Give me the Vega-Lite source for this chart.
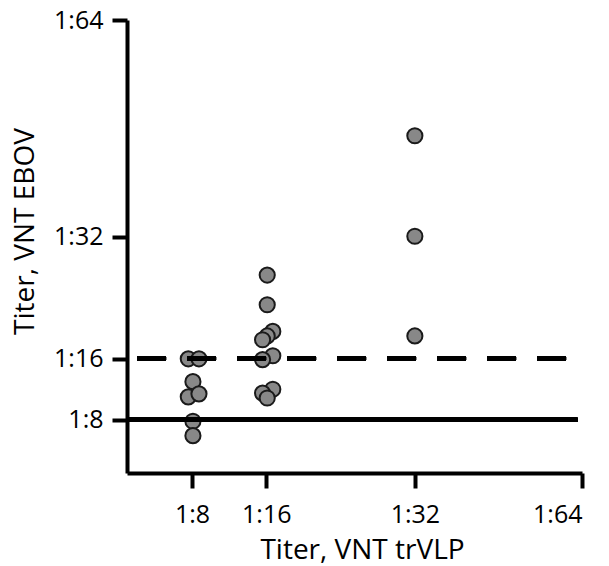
{
  "$schema": "https://vega.github.io/schema/vega-lite/v6.json",
  "autosize": "none",
  "padding": {"left": 127, "top": 20, "right": 27, "bottom": 93},
  "width": 455,
  "height": 453,
  "background": "white",
  "config": {
    "view": {"stroke": null},
    "axis": {
      "grid": false,
      "domainColor": "black",
      "domainWidth": 4,
      "tickColor": "black",
      "tickWidth": 4,
      "tickSize": 15,
      "labelFont": "Open Sans",
      "labelFontSize": 25,
      "labelColor": "black",
      "titleFont": "Open Sans",
      "titleFontSize": 28,
      "titleFontWeight": "normal",
      "titleColor": "black"
    }
  },
  "data": {
    "values": [
      {"group": "1:8", "trVLP": 7.6, "EBOV": 16.0},
      {"group": "1:8", "trVLP": 8.75, "EBOV": 16.0},
      {"group": "1:8", "trVLP": 8.1, "EBOV": 13.0},
      {"group": "1:8", "trVLP": 7.6, "EBOV": 11.0},
      {"group": "1:8", "trVLP": 8.75, "EBOV": 11.4},
      {"group": "1:8", "trVLP": 8.1, "EBOV": 7.8},
      {"group": "1:8", "trVLP": 8.1, "EBOV": 5.9},
      {"group": "1:16", "trVLP": 16.1, "EBOV": 27.0},
      {"group": "1:16", "trVLP": 16.1, "EBOV": 23.1},
      {"group": "1:16", "trVLP": 16.7, "EBOV": 19.6},
      {"group": "1:16", "trVLP": 16.1, "EBOV": 19.0},
      {"group": "1:16", "trVLP": 15.6, "EBOV": 18.5},
      {"group": "1:16", "trVLP": 16.7, "EBOV": 16.4},
      {"group": "1:16", "trVLP": 15.6, "EBOV": 15.9},
      {"group": "1:16", "trVLP": 16.7, "EBOV": 12.0},
      {"group": "1:16", "trVLP": 15.6, "EBOV": 11.5},
      {"group": "1:16", "trVLP": 16.1, "EBOV": 10.85},
      {"group": "1:32", "trVLP": 32.0, "EBOV": 45.3},
      {"group": "1:32", "trVLP": 32.0, "EBOV": 32.1},
      {"group": "1:32", "trVLP": 32.0, "EBOV": 19.0}
    ]
  },
  "layer": [
    {
      "mark": {"type": "point", "shape": "circle", "filled": true, "size": 230, "fill": "#888888", "stroke": "#1a1a1a", "strokeWidth": 2, "opacity": 1},
      "encoding": {
        "x": {
          "field": "trVLP", "type": "quantitative",
          "scale": {"domain": [1, 50], "nice": false, "zero": false},
          "axis": {"values": [8, 16, 32, 50], "labelExpr": "datum.value == 50 ? '1:64' : '1:' + datum.value", "title": "Titer, VNT trVLP", "labelPadding": 14, "titleX": 235, "titleY": 85, "titleAlign": "center", "titleBaseline": "alphabetic"}
        },
        "y": {
          "field": "EBOV", "type": "quantitative",
          "scale": {"domain": [1, 60.5], "nice": false, "zero": false},
          "axis": {"values": [8, 16, 32, 60.5], "labelExpr": "datum.value == 60.5 ? '1:64' : '1:' + datum.value", "title": "Titer, VNT EBOV", "labelPadding": 9, "titleX": -94, "titleY": 211, "titleAngle": -90, "titleAlign": "center", "titleBaseline": "alphabetic"}
        }
      }
    },
    {
      "mark": {"type": "rule", "color": "black", "strokeWidth": 4, "strokeCap": "butt"},
      "encoding": {
        "x": {"datum": 1, "type": "quantitative"},
        "x2": {"datum": 49.5},
        "y": {"datum": 8, "type": "quantitative"}
      }
    },
    {
      "mark": {"type": "rule", "color": "black", "strokeWidth": 4, "strokeCap": "butt", "strokeDash": [29, 21]},
      "encoding": {
        "x": {"datum": 2.08, "type": "quantitative"},
        "x2": {"datum": 48.28},
        "y": {"datum": 16, "type": "quantitative"}
      }
    }
  ]
}
